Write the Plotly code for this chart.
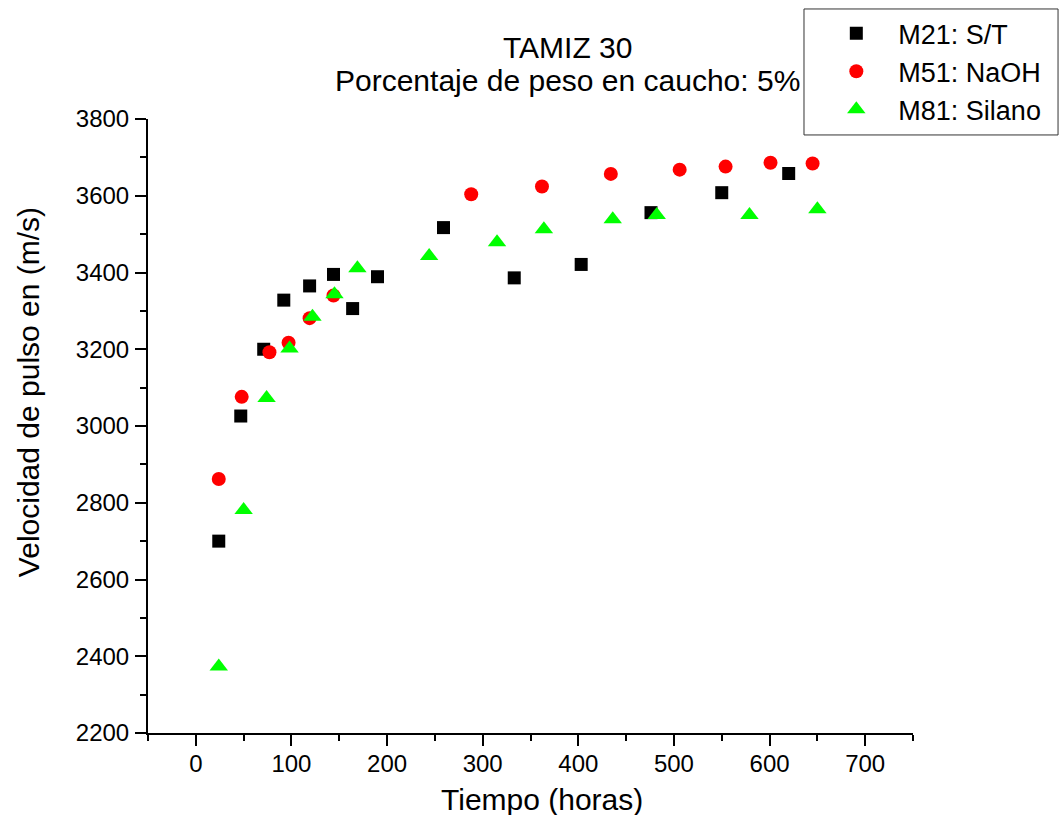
import plotly.graph_objects as go

# M21: S/T
m21_x = [24, 47, 71, 92, 119, 144, 164, 190, 259, 333, 403, 476, 550, 620]
m21_y = [2700, 3026, 3200, 3328, 3365, 3395, 3306, 3389, 3517, 3386, 3421, 3556, 3608, 3658]
# M51: NaOH
m51_x = [24, 48, 77, 97, 119, 144, 288, 362, 434, 506, 554, 601, 645]
m51_y = [2862, 3076, 3192, 3217, 3281, 3340, 3604, 3624, 3657, 3668, 3676, 3686, 3684]
# M81: Silano
m81_x = [24, 50, 74, 98, 122, 145, 169, 244, 315, 364, 436, 482, 579, 650]
m81_y = [2373, 2781, 3073, 3202, 3285, 3343, 3411, 3443, 3479, 3513, 3539, 3550, 3550, 3565]

FONT = "Arial, Liberation Sans, sans-serif"

fig = go.Figure()
fig.add_trace(go.Scatter(x=m21_x, y=m21_y, mode="markers", name="M21: S/T",
                         marker=dict(symbol="square", size=13, color="#000000")))
fig.add_trace(go.Scatter(x=m51_x, y=m51_y, mode="markers", name="M51: NaOH",
                         marker=dict(symbol="circle", size=14, color="#FF0000")))
fig.add_trace(go.Scatter(x=m81_x, y=m81_y, mode="markers", name="M81: Silano",
                         marker=dict(symbol="triangle-up", size=16, color="#00FF00")))

axis_common = dict(showgrid=False, zeroline=False, showline=True, linecolor="black",
                   linewidth=2, ticks="outside", ticklen=11, tickwidth=2, tickcolor="black",
                   tickfont=dict(family=FONT, size=24, color="black"))

fig.update_xaxes(range=[-50, 750], tick0=0, dtick=100,
                 minor=dict(ticks="outside", ticklen=6, tickwidth=2, tickcolor="black", dtick=50, tick0=0),
                 ticklabelstandoff=-3, **axis_common)
fig.update_yaxes(range=[2200, 3800], tick0=2200, dtick=200,
                 minor=dict(ticks="outside", ticklen=6, tickwidth=2, tickcolor="black", dtick=100),
                 ticklabelstandoff=1, **axis_common)

fig.update_layout(
    width=1060, height=815,
    margin=dict(l=148, r=147, t=119, b=82, autoexpand=False),
    plot_bgcolor="white", paper_bgcolor="white",
    font=dict(family=FONT, color="black"),
    showlegend=True,
    legend=dict(x=0.871, y=1.179, xanchor="left", yanchor="top",
                bgcolor="rgba(0,0,0,0)", borderwidth=0,
                font=dict(family=FONT, size=27, color="black"),
                itemwidth=74, tracegroupgap=0),
    shapes=[dict(type="rect", xref="paper", yref="paper",
                 x0=0.8575, x1=1.1896, y0=0.974, y1=1.1792,
                 line=dict(color="#333333", width=1), fillcolor="rgba(0,0,0,0)")],
    annotations=[
        dict(text="TAMIZ 30", x=0.549, y=1.117, xref="paper", yref="paper",
             xanchor="center", yanchor="middle", showarrow=False,
             font=dict(family=FONT, size=30, color="black")),
        dict(text="Porcentaje de peso en caucho: 5%", x=0.548, y=1.0635, xref="paper", yref="paper",
             xanchor="center", yanchor="middle", showarrow=False,
             font=dict(family=FONT, size=30, color="black")),
        dict(text="Tiempo (horas)", x=0.515, y=-0.109, xref="paper", yref="paper",
             xanchor="center", yanchor="middle", showarrow=False,
             font=dict(family=FONT, size=30, color="black")),
        dict(text="Velocidad de pulso en (m/s)", x=-0.157, y=0.555, xref="paper", yref="paper",
             xanchor="center", yanchor="middle", showarrow=False, textangle=-90,
             font=dict(family=FONT, size=30, color="black")),
    ],
)

fig.write_html("out.html")
